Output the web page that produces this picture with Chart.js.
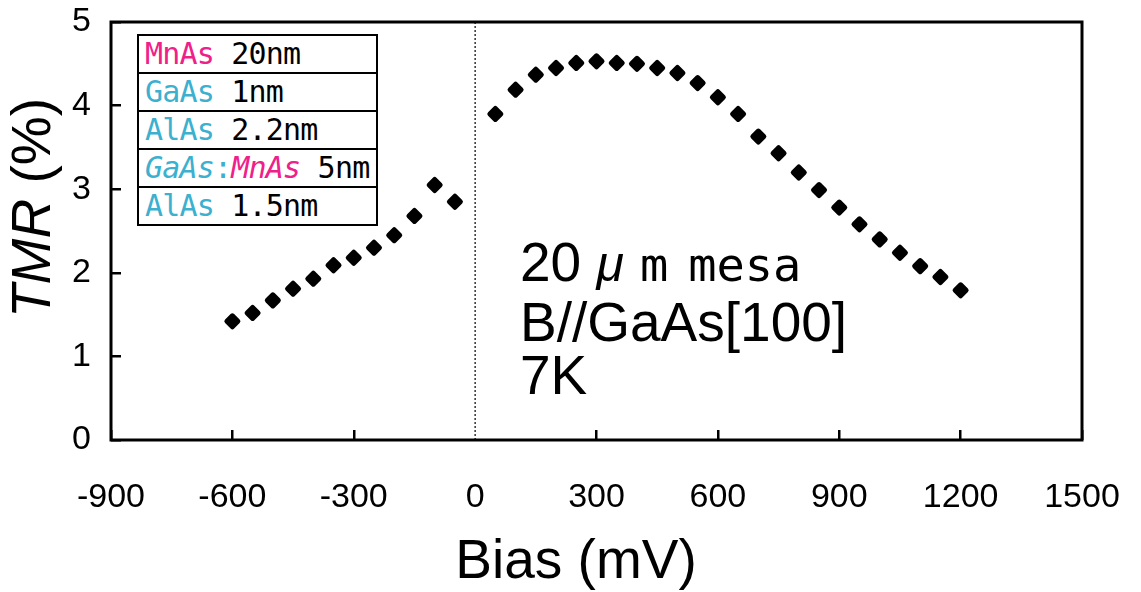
<!DOCTYPE html>
<html lang="en">
<head>
  <meta charset="UTF-8" />
  <title>TMR vs Bias</title>
  <script src="https://cdn.jsdelivr.net/npm/chart.js"></script>
  <style>
    body {
      margin: 0;
      background: #fff;
      font-family: "Liberation Sans", Arial, sans-serif;
    }
    .wrap {
      position: relative;
      width: 1141px;
      height: 592px;
    }
    .stack {
      position: absolute;
      left: 137px;
      top: 34px;
      width: 237px;
      border: 2px solid #000;
      font-family: "DejaVu Sans Mono", monospace;
      font-size: 30px;
      background: #fff;
    }
    .stack div {
      height: 36px;
      line-height: 36px;
      padding-left: 6px;
      border-bottom: 2px solid #000;
      white-space: nowrap;
      letter-spacing: -0.8px;
    }
    .stack div:last-child { border-bottom: none; }
    .pink { color: #f0208a; }
    .blue { color: #3cb0cf; }
    .note {
      position: absolute;
      left: 520px;
      font-size: 55px;
      line-height: 55px;
      color: #000;
      white-space: nowrap;
    }
    .mono {
      font-family: "DejaVu Sans Mono", monospace;
      font-size: 47px;
    }
  </style>
</head>
<body>

<div class="wrap">
  <canvas id="tmrChart" width="1141" height="592"></canvas>

  <!-- layer stack -->
  <div class="stack">
    <div><span class="pink">MnAs</span> 20nm</div>
    <div><span class="blue">GaAs</span> 1nm</div>
    <div><span class="blue">AlAs</span> 2.2nm</div>
    <div><i class="blue">GaAs</i><span class="blue">:</span><i class="pink">MnAs</i> 5nm</div>
    <div><span class="blue">AlAs</span> 1.5nm</div>
  </div>

  <div class="note" style="top:235px">20 <i style="font-size:50px">&mu;</i><span class="mono" style="margin-left:16px">m</span><span class="mono" style="margin-left:20px">mesa</span></div>
  <div class="note" style="top:295px">B//GaAs[100]</div>
  <div class="note" style="top:348px">7K</div>
</div>

<script>
  const biasValues = [-600, -550, -500, -450, -400, -350, -300, -250, -200, -150, -100, -50,
    50, 100, 150, 200, 250, 300, 350, 400, 450, 500, 550, 600, 650, 700,
    750, 800, 850, 900, 950, 1000, 1050, 1100, 1150, 1200];
  const tmrValues = [1.42, 1.52, 1.67, 1.81, 1.93, 2.09, 2.18, 2.30, 2.45, 2.68, 3.05, 2.85,
    3.90, 4.19, 4.37, 4.45, 4.51, 4.53, 4.51, 4.50, 4.45, 4.39, 4.27, 4.10, 3.90, 3.63,
    3.43, 3.20, 2.99, 2.78, 2.58, 2.40, 2.24, 2.08, 1.95, 1.79];
  const zeroLineX = [0, 0];
  const zeroLineY = [0, 5];
  const xTicks = [-900, -600, -300, 0, 300, 600, 900, 1200, 1500];
  const yTicks = [0, 1, 2, 3, 4, 5];

  const sans = '"Liberation Sans", Arial, sans-serif';

  // box frame + axis titles (TMR in italics)
  const framePlugin = {
    id: 'frame',
    beforeDatasetsDraw(chart) {
      chart.ctx.lineJoin = 'round';
    },
    afterDraw(chart) {
      const { ctx, chartArea: a } = chart;
      ctx.save();
      ctx.lineWidth = 3;
      ctx.strokeStyle = '#000';
      ctx.lineJoin = 'miter';
      ctx.strokeRect(a.left, a.top, a.right - a.left, a.bottom - a.top);

      ctx.fillStyle = '#000';
      ctx.font = '55px ' + sans;
      ctx.textAlign = 'center';
      ctx.textBaseline = 'alphabetic';
      ctx.fillText('Bias (mV)', 576, 578);

      ctx.textAlign = 'left';
      ctx.translate(35, 208);
      ctx.rotate(-Math.PI / 2);
      ctx.textBaseline = 'middle';
      ctx.font = 'italic 55px ' + sans;
      const w1 = ctx.measureText('TMR').width;
      ctx.font = '55px ' + sans;
      const w2 = ctx.measureText(' (%)').width;
      let x = -(w1 + w2) / 2;
      ctx.font = 'italic 55px ' + sans;
      ctx.fillText('TMR', x, 0);
      ctx.font = '55px ' + sans;
      ctx.fillText(' (%)', x + w1, 0);
      ctx.restore();
    }
  };

  new Chart(document.getElementById('tmrChart'), {
    type: 'scatter',
    data: {
      datasets: [{
        label: 'TMR',
        data: biasValues.map((b, i) => ({ x: b, y: tmrValues[i] })),
        pointStyle: 'rectRot',
        pointRadius: 5.5,
        borderWidth: 5,
        backgroundColor: '#000',
        borderColor: '#000'
      }, {
        label: 'zero',
        type: 'line',
        data: zeroLineX.map((b, i) => ({ x: b, y: zeroLineY[i] })),
        borderColor: '#000',
        borderWidth: 1.2,
        borderDash: [2, 2],
        pointRadius: 0
      }]
    },
    options: {
      responsive: false,
      animation: false,
      layout: { padding: { top: 22, right: 59, left: 0, bottom: 0 } },
      plugins: {
        legend: { display: false },
        tooltip: { enabled: false }
      },
      scales: {
        x: {
          type: 'linear',
          min: -900,
          max: 1500,
          afterBuildTicks: s => { s.ticks = xTicks.map(v => ({ value: v })); },
          afterFit: s => { s.height = 152; s.paddingLeft = 0; s.paddingRight = 0; },
          border: { display: false },
          grid: {
            drawOnChartArea: false,
            tickLength: -10,
            lineWidth: 2.5,
            color: c => (c.tick && c.tick.value === 0) ? 'rgba(0,0,0,0)' : '#000'
          },
          ticks: {
            color: '#000',
            padding: 47,
            maxRotation: 0,
            callback: v => String(v),
            font: { family: sans, size: 34 }
          }
        },
        y: {
          type: 'linear',
          min: 0,
          max: 5,
          afterBuildTicks: s => { s.ticks = yTicks.map(v => ({ value: v })); },
          afterFit: s => { s.width = 111; s.paddingTop = 0; s.paddingBottom = 0; },
          border: { display: false },
          grid: {
            drawOnChartArea: false,
            tickLength: -10,
            lineWidth: 2.5,
            color: '#000'
          },
          ticks: {
            color: '#000',
            padding: 30,
            callback: v => String(v),
            font: { family: sans, size: 34 }
          }
        }
      }
    },
    plugins: [framePlugin]
  });
</script>

</body>
</html>
